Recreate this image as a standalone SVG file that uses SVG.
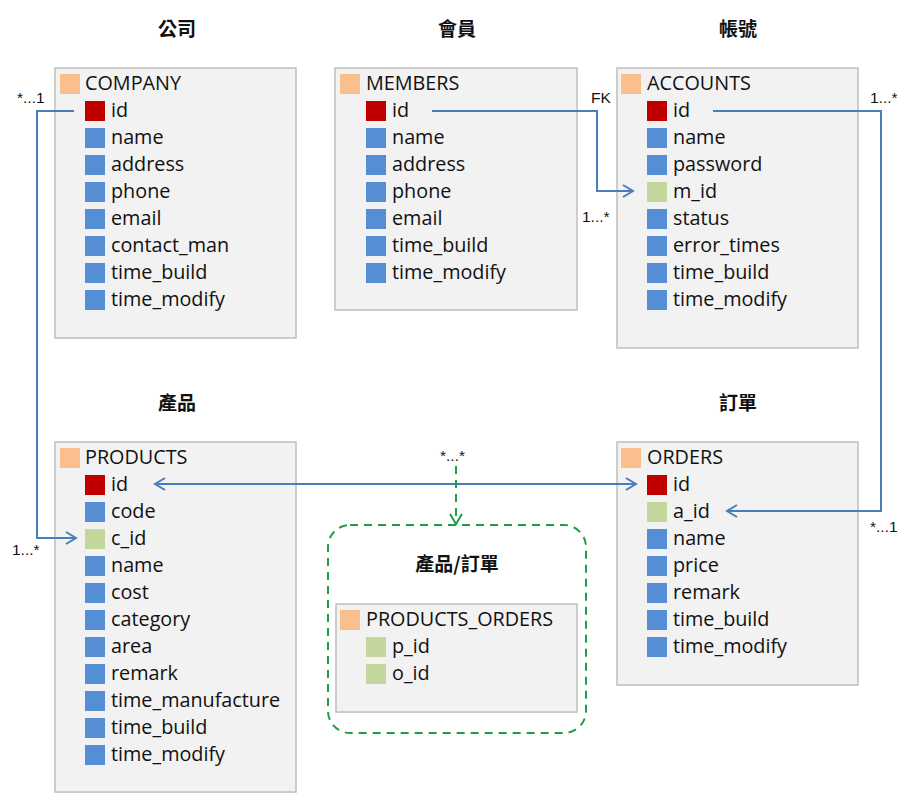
<svg xmlns="http://www.w3.org/2000/svg" width="922" height="805" viewBox="0 0 922 805">
<style>
.box{fill:#f2f2f2;stroke:#bfbfbf;stroke-width:1.5}
.hd{fill:#f9c08e}
.pk{fill:#c00000}
.fd{fill:#558ed5}
.fk{fill:#c3d69b}
.t{font-family:"Open Sans","Liberation Sans",sans-serif;font-size:19.8px;fill:#111}
.ti{font-family:"Noto Sans CJK TC","Noto Sans CJK SC",sans-serif;font-size:19px;font-weight:bold;fill:#111;text-anchor:middle}
.lb{font-family:"Liberation Sans","Open Sans",sans-serif;font-size:15.5px;fill:#111}
.cn{fill:none;stroke:#4a7ebb;stroke-width:2}
.gd{fill:none;stroke:#1e9e4a;stroke-width:2;stroke-dasharray:8 6}
</style>
<defs>
<marker id="ar" markerUnits="userSpaceOnUse" markerWidth="14" markerHeight="16" refX="11" refY="7" orient="auto-start-reverse" viewBox="0 0 14 16">
<path d="M1,1 L11,7 L1,13" fill="none" stroke="#4a7ebb" stroke-width="2"/>
</marker>
<marker id="ag" markerUnits="userSpaceOnUse" markerWidth="14" markerHeight="16" refX="11" refY="7" orient="auto" viewBox="0 0 14 16">
<path d="M1,1 L11,7 L1,13" fill="none" stroke="#1e9e4a" stroke-width="2"/>
</marker>
</defs>
<rect width="922" height="805" fill="#fff"/>

<g id="titles">
<text class="ti" x="177" y="36">公司</text>
<text class="ti" x="457" y="36">會員</text>
<text class="ti" x="738" y="36">帳號</text>
<text class="ti" x="177" y="410">產品</text>
<text class="ti" x="738" y="410">訂單</text>
<text class="ti" x="457" y="571">產品/訂單</text>
</g>

<g id="company">
<rect class="box" x="55" y="68" width="241" height="270"/>
<rect class="hd" x="60" y="74" width="20" height="20"/><text class="t" x="85" y="90">COMPANY</text>
<rect class="pk" x="85" y="101" width="20" height="20"/><text class="t" x="111" y="117">id</text>
<rect class="fd" x="85" y="128" width="20" height="20"/><text class="t" x="111" y="144">name</text>
<rect class="fd" x="85" y="155" width="20" height="20"/><text class="t" x="111" y="171">address</text>
<rect class="fd" x="85" y="182" width="20" height="20"/><text class="t" x="111" y="198">phone</text>
<rect class="fd" x="85" y="209" width="20" height="20"/><text class="t" x="111" y="225">email</text>
<rect class="fd" x="85" y="236" width="20" height="20"/><text class="t" x="111" y="252">contact_man</text>
<rect class="fd" x="85" y="263" width="20" height="20"/><text class="t" x="111" y="279">time_build</text>
<rect class="fd" x="85" y="290" width="20" height="20"/><text class="t" x="111" y="306">time_modify</text>
</g>

<g id="members">
<rect class="box" x="335" y="68" width="242" height="242"/>
<rect class="hd" x="340" y="74" width="20" height="20"/><text class="t" x="366" y="90">MEMBERS</text>
<rect class="pk" x="366" y="101" width="20" height="20"/><text class="t" x="392" y="117">id</text>
<rect class="fd" x="366" y="128" width="20" height="20"/><text class="t" x="392" y="144">name</text>
<rect class="fd" x="366" y="155" width="20" height="20"/><text class="t" x="392" y="171">address</text>
<rect class="fd" x="366" y="182" width="20" height="20"/><text class="t" x="392" y="198">phone</text>
<rect class="fd" x="366" y="209" width="20" height="20"/><text class="t" x="392" y="225">email</text>
<rect class="fd" x="366" y="236" width="20" height="20"/><text class="t" x="392" y="252">time_build</text>
<rect class="fd" x="366" y="263" width="20" height="20"/><text class="t" x="392" y="279">time_modify</text>
</g>

<g id="accounts">
<rect class="box" x="617" y="68" width="241" height="280"/>
<rect class="hd" x="621" y="74" width="20" height="20"/><text class="t" x="647" y="90">ACCOUNTS</text>
<rect class="pk" x="647" y="101" width="20" height="20"/><text class="t" x="673" y="117">id</text>
<rect class="fd" x="647" y="128" width="20" height="20"/><text class="t" x="673" y="144">name</text>
<rect class="fd" x="647" y="155" width="20" height="20"/><text class="t" x="673" y="171">password</text>
<rect class="fk" x="647" y="182" width="20" height="20"/><text class="t" x="673" y="198">m_id</text>
<rect class="fd" x="647" y="209" width="20" height="20"/><text class="t" x="673" y="225">status</text>
<rect class="fd" x="647" y="236" width="20" height="20"/><text class="t" x="673" y="252">error_times</text>
<rect class="fd" x="647" y="263" width="20" height="20"/><text class="t" x="673" y="279">time_build</text>
<rect class="fd" x="647" y="290" width="20" height="20"/><text class="t" x="673" y="306">time_modify</text>
</g>

<g id="products">
<rect class="box" x="55" y="442" width="241" height="350"/>
<rect class="hd" x="60" y="448" width="20" height="20"/><text class="t" x="85" y="464">PRODUCTS</text>
<rect class="pk" x="85" y="475" width="20" height="20"/><text class="t" x="111" y="491">id</text>
<rect class="fd" x="85" y="502" width="20" height="20"/><text class="t" x="111" y="518">code</text>
<rect class="fk" x="85" y="529" width="20" height="20"/><text class="t" x="111" y="545">c_id</text>
<rect class="fd" x="85" y="556" width="20" height="20"/><text class="t" x="111" y="572">name</text>
<rect class="fd" x="85" y="583" width="20" height="20"/><text class="t" x="111" y="599">cost</text>
<rect class="fd" x="85" y="610" width="20" height="20"/><text class="t" x="111" y="626">category</text>
<rect class="fd" x="85" y="637" width="20" height="20"/><text class="t" x="111" y="653">area</text>
<rect class="fd" x="85" y="664" width="20" height="20"/><text class="t" x="111" y="680">remark</text>
<rect class="fd" x="85" y="691" width="20" height="20"/><text class="t" x="111" y="707">time_manufacture</text>
<rect class="fd" x="85" y="718" width="20" height="20"/><text class="t" x="111" y="734">time_build</text>
<rect class="fd" x="85" y="745" width="20" height="20"/><text class="t" x="111" y="761">time_modify</text>
</g>

<g id="orders">
<rect class="box" x="617" y="442" width="241" height="243"/>
<rect class="hd" x="621" y="448" width="20" height="20"/><text class="t" x="647" y="464">ORDERS</text>
<rect class="pk" x="647" y="475" width="20" height="20"/><text class="t" x="673" y="491">id</text>
<rect class="fk" x="647" y="502" width="20" height="20"/><text class="t" x="673" y="518">a_id</text>
<rect class="fd" x="647" y="529" width="20" height="20"/><text class="t" x="673" y="545">name</text>
<rect class="fd" x="647" y="556" width="20" height="20"/><text class="t" x="673" y="572">price</text>
<rect class="fd" x="647" y="583" width="20" height="20"/><text class="t" x="673" y="599">remark</text>
<rect class="fd" x="647" y="610" width="20" height="20"/><text class="t" x="673" y="626">time_build</text>
<rect class="fd" x="647" y="637" width="20" height="20"/><text class="t" x="673" y="653">time_modify</text>
</g>

<g id="products_orders">
<rect class="gd" x="328" y="525" width="258" height="208" rx="22" ry="22"/>
<rect class="box" x="336" y="604" width="241" height="108"/>
<rect class="hd" x="340" y="610" width="20" height="20"/><text class="t" x="366" y="626">PRODUCTS_ORDERS</text>
<rect class="fk" x="366" y="637" width="20" height="20"/><text class="t" x="392" y="653">p_id</text>
<rect class="fk" x="366" y="664" width="20" height="20"/><text class="t" x="392" y="680">o_id</text>
</g>

<g id="connectors">
<path class="cn" d="M74,111 H37 V538 H76" marker-end="url(#ar)"/>
<path class="cn" d="M432,111 H597 V191 H633" marker-end="url(#ar)"/>
<path class="cn" d="M713,111 H881 V511 H727" marker-end="url(#ar)"/>
<path class="cn" d="M155,484 H636" marker-start="url(#ar)" marker-end="url(#ar)"/>
<path class="gd" d="M456,466 V524" marker-end="url(#ag)"/>
<text class="lb" x="17" y="103">*...1</text>
<text class="lb" x="12" y="555">1...*</text>
<text class="lb" x="591" y="103">FK</text>
<text class="lb" x="582" y="222">1...*</text>
<text class="lb" x="870" y="103">1...*</text>
<text class="lb" x="870" y="532">*...1</text>
<text class="lb" x="440" y="461">*...*</text>
</g>
</svg>
